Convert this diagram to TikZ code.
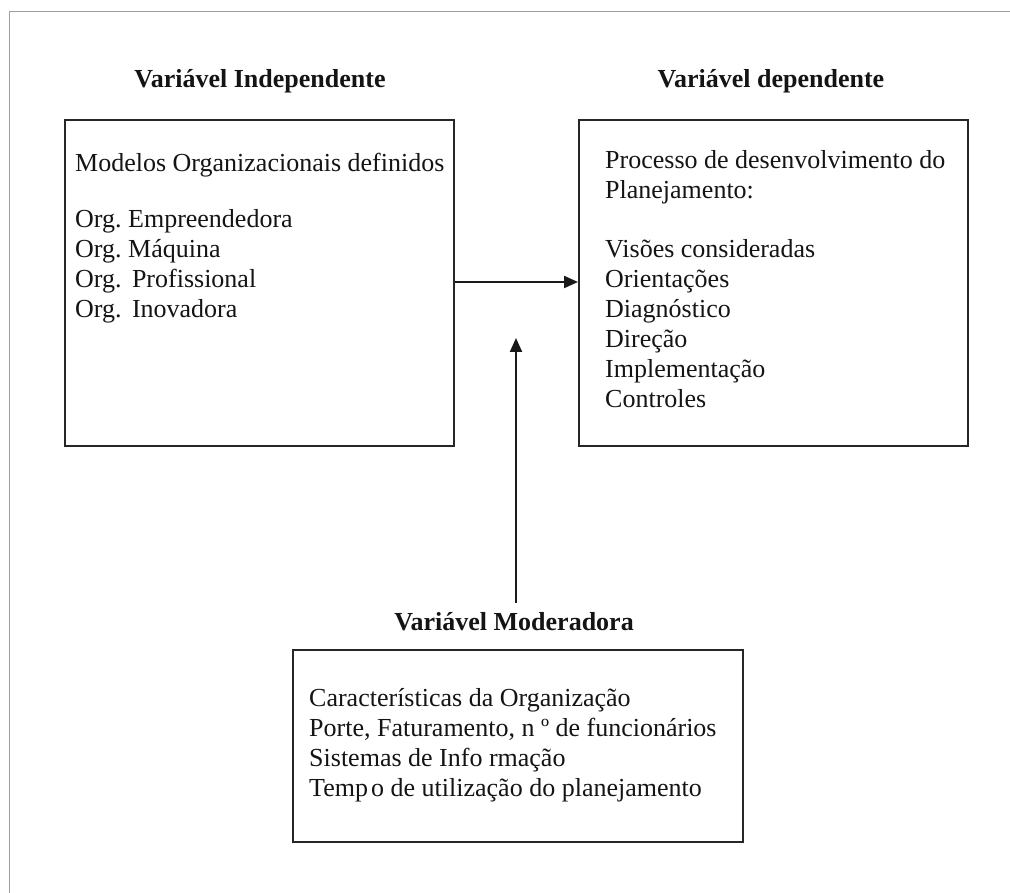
\documentclass[tikz,border=0pt]{standalone}
\usepackage{fontspec}
\setmainfont{Liberation Serif}
\usetikzlibrary{arrows.meta}
\frenchspacing
\begin{document}
\begin{tikzpicture}[x=1pt,y=-1pt,
  frame/.style={draw=black!38, line width=1.5pt},
  varbox/.style={draw=black!85, line width=2.2pt, rectangle, inner sep=0pt, anchor=north west},
  heading/.style={font=\fontsize{26}{30}\selectfont\bfseries, anchor=base, inner sep=0pt, text=black!92},
  body/.style={font=\fontsize{26}{30}\selectfont, anchor=base west, inner sep=0pt, text=black!92},
  flow/.style={line width=2.2pt, draw=black!90, -{Triangle[length=14pt,width=12pt]}}]

\useasboundingbox (0,0) rectangle (1010,893);

% page frame (top and left edges)
\draw[frame] (9.5,893) -- (9.5,11.5) -- (1010,11.5);

% the three variable boxes
\node[varbox, minimum width=389pt, minimum height=326pt] (indep) at (64,119) {};
\node[varbox, minimum width=389pt, minimum height=326pt] (dep) at (578,119) {};
\node[varbox, minimum width=450pt, minimum height=192pt] (moder) at (292,649) {};

% headings
\node[heading] (hindep) at (260,88) {Variável Independente};
\node[heading] (hdep) at (771,88) {Variável dependente};
\node[heading] (hmoder) at (514,630) {Variável Moderadora};

% independent variable
\node[body] (i1) at (75,172) {Modelos Organizacionais definidos};
\node[body] (i2) at (75,228) {Org. Empreendedora};
\node[body] (i3) at (75,258) {Org. Máquina};
\node[body] (i4) at (75,288) {Org.\hspace{0.4em}Profissional};
\node[body] (i5) at (75,318) {Org.\hspace{0.4em}Inovadora};

% dependent variable
\node[body] (d1) at (605,169) {Processo de desenvolvimento do};
\node[body] (d2) at (605,199) {Planejamento:};
\node[body] (d3) at (605,258) {Visões consideradas};
\node[body] (d4) at (605,288) {Orientações};
\node[body] (d5) at (605,318) {Diagnóstico};
\node[body] (d6) at (605,348) {Direção};
\node[body] (d7) at (605,378) {Implementação};
\node[body] (d8) at (605,408) {Controles};

% moderating variable
\node[body] (m1) at (309,706) {Características da Organização};
\node[body] (m2) at (309,736) {Porte, Faturamento, n º de funcionários};
\node[body] (m3) at (309,766) {Sistemas de Info rmação};
\node[body] (m4) at (309,796) {Temp\hspace{0.12em}o de utilização do planejamento};

% relations
\draw[flow] (indep.east |- 0,282) -- (dep.west |- 0,282);
\coordinate (mbase) at (516,603);
\coordinate (mtip) at (516,338);
\draw[flow] (mbase) -- (mtip);
\end{tikzpicture}
\end{document}
